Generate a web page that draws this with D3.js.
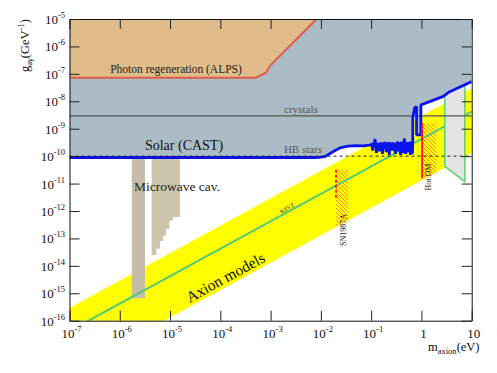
<!DOCTYPE html>
<html>
<head>
<meta charset="utf-8">
<script src="https://cdn.jsdelivr.net/npm/d3@7"></script>
<style>
body { margin: 0; background: #fff; }
svg { display: block; font-family: "Liberation Serif", "Times New Roman", serif; }
</style>
</head>
<body>
<script>
var width = 497;
var height = 373;

// axis domains and tick labels
var massTicks = [1e-7, 1e-6, 1e-5, 1e-4, 1e-3, 1e-2, 1e-1, 1, 10];
var massTickBase = ["10", "10", "10", "10", "10", "10", "10", "1", "10"];
var massTickExp = ["-7", "-6", "-5", "-4", "-3", "-2", "-1", "", ""];
var couplingTicks = [1e-16, 1e-15, 1e-14, 1e-13, 1e-12, 1e-11, 1e-10, 1e-9, 1e-8, 1e-7, 1e-6, 1e-5];
var couplingTickExp = ["-16", "-15", "-14", "-13", "-12", "-11", "-10", "-9", "-8", "-7", "-6", "-5"];

// axion model band (upper / lower edge) and KSVZ line
var bandMass = [1e-7, 10];
var bandUpper = [2.9e-16, 2.9e-8];
var bandLower = [1.3e-18, 1.3e-10];
var ksvzCoupling = [4.2e-17, 4.2e-9];

// CAST solar limit: smooth part, noisy part, high-mass part
var castMass = [1e-7, 8.0e-3, 1.2e-2, 1.8e-2, 2.5e-2, 3.5e-2, 5.0e-2, 7.0e-2, 9.0e-2,
  0.1000, 0.1035, 0.1072, 0.1109, 0.1148, 0.1189, 0.1230, 0.1274, 0.1318, 0.1365,
  0.1413, 0.1462, 0.1514, 0.1567, 0.1622, 0.1679, 0.1738, 0.1799, 0.1862, 0.1928,
  0.1995, 0.2065, 0.2138, 0.2213, 0.2291, 0.2371, 0.2455, 0.2541, 0.2630, 0.2723,
  0.2818, 0.2917, 0.3020, 0.3126, 0.3236, 0.3350, 0.3467, 0.3589, 0.3715, 0.3846,
  0.3981, 0.4121, 0.4266, 0.4416, 0.4571, 0.4732, 0.4898, 0.5070, 0.5248, 0.5433,
  0.5623, 0.5821, 0.6026, 0.6237, 0.6457, 0.6607,
  0.673, 0.673, 0.733, 0.80, 0.80, 0.975, 0.975, 2.66, 3.66, 10];
var castCoupling = [8.9e-11, 8.9e-11, 9.6e-11, 1.5e-10, 2.05e-10, 2.3e-10, 2.4e-10, 2.35e-10, 2.5e-10,
  2.6e-10, 2.9e-10, 1.6e-10, 3.1e-10, 2.5e-10, 4.2e-10, 2.7e-10, 1.3e-10, 3.0e-10, 2.6e-10,
  2.9e-10, 1.5e-10, 2.8e-10, 3.1e-10, 2.4e-10, 1.2e-10, 3.0e-10, 2.7e-10, 3.3e-10, 2.2e-10,
  1.4e-10, 2.9e-10, 2.6e-10, 3.2e-10, 1.1e-10, 2.8e-10, 3.0e-10, 2.5e-10, 1.6e-10, 3.1e-10,
  2.7e-10, 2.9e-10, 1.2e-10, 3.0e-10, 2.6e-10, 3.4e-10, 1.5e-10, 2.8e-10, 3.1e-10, 1.1e-10,
  2.9e-10, 3.3e-10, 2.4e-10, 1.3e-10, 4.4e-10, 2.8e-10, 1.2e-10, 3.1e-10, 2.7e-10, 1.4e-10,
  3.2e-10, 2.9e-10, 1.1e-10, 3.4e-10, 2.6e-10, 1.2e-10,
  4.0e-10, 2.5e-9, 5.8e-9, 6.3e-9, 6.0e-10, 6.0e-10, 7.4e-9, 1.48e-8, 2.24e-8, 5.2e-8];

// photon regeneration (ALPS)
var alpsMass = [1e-7, 5.1e-4, 8.1e-4, 1.0e-3, 8.2e-3];
var alpsCoupling = [7.2e-8, 7.2e-8, 1.1e-7, 2.1e-7, 1e-5];

// crystals and HB stars
var crystalsCoupling = 2.95e-9;
var hbCoupling = 1e-10;

// microwave cavities
var cavity1Mass = [1.73e-6, 3.17e-6];
var cavity1Coupling = [6.6e-16, 8.9e-11];
var cavity2Mass = [4.31e-6, 5.37e-6, 6.30e-6, 7.22e-6, 8.29e-6, 9.72e-6, 1.14e-5, 1.57e-5];
var cavity2Bottom = [2.5e-14, 4.2e-14, 8.1e-14, 1.24e-13, 2.2e-13, 4.4e-13, 6.0e-13];
var cavity2Top = 8.9e-11;

// SN1987A and hot dark matter
var snMass = [0.02, 0.035];
var snCoupling = [3.2e-11, 3.0e-12];
var hotMass = [1.03, 2.0];
var hotCoupling = [1.6e-9, 1.6e-11];

// telescope region
var telescopeMass = [2.92, 2.92, 7.3, 7.3];
var telescopeCoupling = [1.58e-8, 4.2e-11, 1.17e-11, 4.0e-8];

var x = d3.scaleLog().domain([1e-7, 10]).range([69.5, 471.7]);
var y = d3.scaleLog().domain([1e-16, 1e-5]).range([320.7, 19]);

var svg = d3.select("body").append("svg")
  .attr("width", width)
  .attr("height", height);

var defs = svg.append("defs");
defs.append("clipPath").attr("id", "plot")
  .append("rect")
  .attr("x", x.range()[0]).attr("y", y.range()[1])
  .attr("width", x.range()[1] - x.range()[0])
  .attr("height", y.range()[0] - y.range()[1]);

var line = d3.line().x(function(d) { return x(d[0]); }).y(function(d) { return y(d[1]); });

var bandPoints = d3.zip(bandMass, bandUpper).concat(d3.zip(bandMass, bandLower).reverse());
defs.append("clipPath").attr("id", "band")
  .append("path").attr("d", line(bandPoints) + "Z");

var hatch = defs.append("pattern").attr("id", "hatch")
  .attr("patternUnits", "userSpaceOnUse")
  .attr("width", 4).attr("height", 4);
hatch.append("path")
  .attr("d", "M-1,-1L5,5M-1,3L1,5M3,-1L5,1")
  .attr("stroke", "#ff6a3a").attr("stroke-width", 0.8);

var plot = svg.append("g").attr("clip-path", "url(#plot)");

// axion band
plot.append("path").attr("d", line(bandPoints) + "Z").attr("fill", "#ffff00");

// hatched regions inside the band
[[snMass, snCoupling], [hotMass, hotCoupling]].forEach(function(r) {
  plot.append("g").attr("clip-path", "url(#band)")
    .append("rect")
    .attr("x", x(r[0][0])).attr("y", y(r[1][0]))
    .attr("width", x(r[0][1]) - x(r[0][0]))
    .attr("height", y(1e-16) - y(r[1][0]))
    .attr("fill", "url(#hatch)");
});

// microwave cavities
plot.append("rect")
  .attr("x", x(cavity1Mass[0])).attr("y", y(cavity1Coupling[1]))
  .attr("width", x(cavity1Mass[1]) - x(cavity1Mass[0]))
  .attr("height", y(cavity1Coupling[0]) - y(cavity1Coupling[1]))
  .attr("fill", "#c4bea9");

var cav2 = [[cavity2Mass[0], cavity2Top], [cavity2Mass[cavity2Mass.length - 1], cavity2Top]];
for (var i = cavity2Bottom.length - 1; i >= 0; i--) {
  cav2.push([cavity2Mass[i + 1], cavity2Bottom[i]]);
  cav2.push([cavity2Mass[i], cavity2Bottom[i]]);
}
plot.append("path").attr("d", line(cav2) + "Z").attr("fill", "#cdc5ab");

// KSVZ
plot.append("path").attr("d", line(d3.zip(bandMass, ksvzCoupling)))
  .attr("stroke", "#4fc97a").attr("stroke-width", 2).attr("fill", "none");

// telescope region
var tel = d3.zip(telescopeMass, telescopeCoupling);
plot.append("path").attr("d", line(tel) + "Z").attr("fill", "#e3e3e3");
plot.append("path").attr("d", line(tel))
  .attr("stroke", "#5fcf6f").attr("stroke-width", 1.5).attr("fill", "none");

// CAST excluded region
var cast = d3.zip(castMass, castCoupling);
var castArea = [[1e-7, 1e-5]].concat(cast).concat([[10, 1e-5]]);
plot.append("path").attr("d", line(castArea) + "Z").attr("fill", "#abbcc7");

// ALPS excluded region
var alps = d3.zip(alpsMass, alpsCoupling);
var alpsArea = [[1e-7, 1e-5]].concat(alps);
plot.append("path").attr("d", line(alpsArea) + "Z").attr("fill", "#dfbc8a");
plot.append("path").attr("d", line(alps))
  .attr("stroke", "#e05a4a").attr("stroke-width", 2).attr("fill", "none");

// crystals line
plot.append("path").attr("d", line([[1e-7, crystalsCoupling], [10, crystalsCoupling]]))
  .attr("stroke", "#555").attr("stroke-width", 1.2);

// CAST line
plot.append("path").attr("d", line(cast))
  .attr("stroke", "#0a12f0").attr("stroke-width", 2.8).attr("fill", "none")
  .attr("stroke-linejoin", "bevel");

// HB stars
plot.append("path").attr("d", line([[1e-7, hbCoupling], [10, hbCoupling]]))
  .attr("stroke", "#222").attr("stroke-width", 1).attr("stroke-dasharray", "3,3");

// SN1987A and Hot DM lines
plot.append("path").attr("d", line([[snMass[0], snCoupling[0]], [snMass[0], snCoupling[1]]]))
  .attr("stroke", "#ff1010").attr("stroke-width", 1.8).attr("stroke-dasharray", "3,2");
plot.append("path").attr("d", line([[hotMass[0], hotCoupling[0]], [hotMass[0], hotCoupling[1]]]))
  .attr("stroke", "#ff1010").attr("stroke-width", 1.8);

// texts
function label(txt, px, py, size, color, rot) {
  svg.append("text")
    .attr("transform", "translate(" + px + "," + py + ")" + (rot ? " rotate(" + rot + ")" : ""))
    .attr("text-anchor", "middle")
    .attr("font-size", size)
    .attr("fill", color)
    .text(txt);
}
label("Photon regeneration (ALPS)", 176, 73, 11.5, "#222");
label("Solar (CAST)", 184, 150, 14, "#111");
label("crystals", 301, 113, 11, "#555");
label("HB stars", 303, 153, 11, "#555");
label("Microwave cav.", 177, 191, 13.5, "#222");
label("Axion models", 228, 282, 15.5, "#111", -28.6);
label("KSVZ", 288, 210, 6, "#222", -28.6);
label("SN1987A", 346, 230, 8, "#222", -90);
label("Hot DM", 431, 177, 8, "#222", -90);

// axes
var xAll = x.ticks(40);
var yAll = y.ticks(40);
function major(v) { return Math.abs(Math.log10(v) - Math.round(Math.log10(v))) < 1e-6; }
var xMinor = xAll.filter(function(v) { return !major(v); });
var yMinor = yAll.filter(function(v) { return !major(v); });

function drawAxis(maker, scale, pos, majors, minors) {
  var g = svg.append("g").attr("transform", pos);
  g.call(maker(scale).tickValues(minors).tickSizeInner(-5).tickSizeOuter(0).tickFormat(""));
  g.call(maker(scale).tickValues(majors).tickSizeInner(-10).tickSizeOuter(0).tickFormat(""));
  g.selectAll("line").attr("stroke", "#222");
  g.selectAll(".domain").attr("stroke", "#111");
}
drawAxis(d3.axisBottom, x, "translate(0," + y.range()[0] + ")", massTicks, xMinor);
drawAxis(d3.axisTop, x, "translate(0," + y.range()[1] + ")", massTicks, xMinor);
drawAxis(d3.axisLeft, y, "translate(" + x.range()[0] + ",0)", couplingTicks, yMinor);
drawAxis(d3.axisRight, y, "translate(" + x.range()[1] + ",0)", couplingTicks, yMinor);

// tick labels
var xl = svg.selectAll("text.xl").data(massTicks).join("text")
  .attr("class", "xl")
  .attr("x", function(d) { return x(d) + 2; })
  .attr("y", 338)
  .attr("text-anchor", "middle")
  .attr("font-size", 13)
  .attr("fill", "#111");
xl.append("tspan").text(function(d, i) { return massTickBase[i]; });
xl.append("tspan").attr("dy", -6).attr("font-size", 8.5).text(function(d, i) { return massTickExp[i]; });

var yl = svg.selectAll("text.yl").data(couplingTicks).join("text")
  .attr("class", "yl")
  .attr("x", 65)
  .attr("y", function(d) { return y(d) + 5; })
  .attr("text-anchor", "end")
  .attr("font-size", 13)
  .attr("fill", "#111");
yl.append("tspan").text("10");
yl.append("tspan").attr("dy", -6).attr("font-size", 8.5).text(function(d, i) { return couplingTickExp[i]; });

// axis titles
var xt = svg.append("text").attr("x", 428).attr("y", 351).attr("font-size", 12.5).attr("fill", "#111");
xt.append("tspan").text("m");
xt.append("tspan").attr("dy", 3).attr("font-size", 8.5).text("axion");
xt.append("tspan").attr("dy", -3).text("(eV)");

var yt = svg.append("text").attr("transform", "translate(29,72) rotate(-90)")
  .attr("font-size", 12.5).attr("fill", "#111");
yt.append("tspan").text("g");
yt.append("tspan").attr("dy", 3).attr("font-size", 8.5).text("aγ");
yt.append("tspan").attr("dy", -3).text("(GeV");
yt.append("tspan").attr("dy", -5).attr("font-size", 8.5).text("-1");
yt.append("tspan").attr("dy", 5).text(")");
</script>
</body>
</html>
